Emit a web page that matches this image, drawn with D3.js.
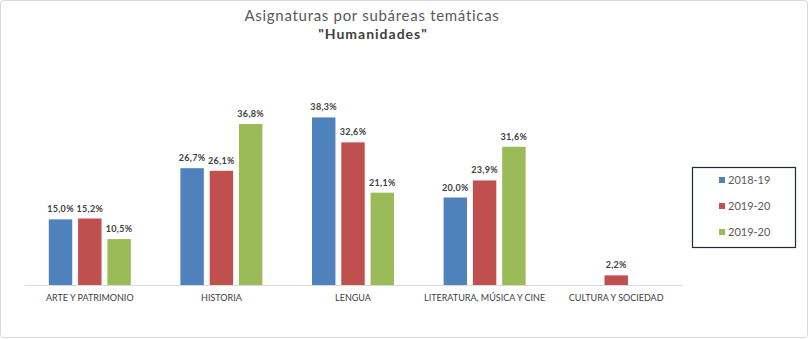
<!DOCTYPE html>
<html><head><meta charset="utf-8">
<script src="https://cdn.jsdelivr.net/npm/d3@7"></script>
<style>body{margin:0;background:#fff;}svg{display:block;}</style>
</head><body>
<svg id="c" width="809" height="339"></svg>
<script>
const categories = ["ARTE Y PATRIMONIO", "HISTORIA", "LENGUA", "LITERATURA, MÚSICA Y CINE", "CULTURA Y SOCIEDAD"];
const seriesNames = ["2018-19", "2019-20", "2019-20"];
const s2018 = [15.0, 26.7, 38.3, 20.0, null];
const s2019a = [15.2, 26.1, 32.6, 23.9, 2.2];
const s2019b = [10.5, 36.8, 21.1, 31.6, null];
const colors = ["#4f81bd", "#c0504d", "#9bbb59"];
const titleLine1 = "Asignaturas por subáreas temáticas";
const titleLine2 = "\"Humanidades\"";

const series = [s2018, s2019a, s2019b];
const font = "'Century Gothic','URW Gothic','URW Gothic L',Lato,'DejaVu Sans',sans-serif";
const svg = d3.select("#c");

svg.append("rect").attr("x",0.5).attr("y",0.5).attr("width",807).attr("height",337)
  .attr("rx",3).attr("fill","#fff").attr("stroke","#d9d9d9");

const x0 = d3.scaleBand().domain(categories).range([24, 682]).paddingInner(0).paddingOuter(0);
const x1 = d3.scaleBand().domain([0,1,2]).range([x0.bandwidth()/2 - 41, x0.bandwidth()/2 + 41]).paddingInner(0.2).paddingOuter(0);
const y = d3.scaleLinear().domain([0, 40]).range([285, 110]);

svg.append("g").attr("transform","translate(0,285)")
  .call(d3.axisBottom(x0).tickSize(0).tickPadding(10))
  .call(g => { g.select(".domain").attr("stroke","#d9d9d9"); 
    g.selectAll("text").attr("font-family",font).attr("font-size",9).attr("fill","#404040"); });

const groups = svg.append("g").selectAll("g").data(categories).join("g")
  .attr("transform", d => `translate(${x0(d)},0)`);

groups.each(function(cat, ci){
  const g = d3.select(this);
  series.forEach((s, si) => {
    const v = s[ci];
    if (v == null) return;
    g.append("rect").attr("x", x1(si)).attr("y", y(v)).attr("width", x1.bandwidth())
      .attr("height", y(0) - y(v)).attr("fill", colors[si]);
    g.append("text").attr("x", x1(si) + x1.bandwidth()/2).attr("y", y(v) - 7)
      .attr("text-anchor","middle").attr("font-family",font).attr("font-size",9)
      .attr("font-weight","bold").attr("letter-spacing",0.3).attr("fill","#404040")
      .text(v.toFixed(1).replace(".", ",") + "%");
  });
});

svg.append("text").attr("x",372).attr("y",21).attr("text-anchor","middle")
  .attr("font-family",font).attr("font-size",15).attr("letter-spacing",0.7).attr("fill","#595959").text(titleLine1);
svg.append("text").attr("x",373).attr("y",39).attr("text-anchor","middle")
  .attr("font-family",font).attr("font-size",14).attr("font-weight","bold").attr("letter-spacing",1)
  .attr("fill","#404040").text(titleLine2);

const lg = svg.append("g");
lg.append("rect").attr("x",692.5).attr("y",167.5).attr("width",103).attr("height",80)
  .attr("fill","#fff").attr("stroke","#1f2a3c").attr("stroke-width",1.2);
const ly = d3.scalePoint().domain([0,1,2]).range([180, 232]);
seriesNames.forEach((n, i) => {
  lg.append("rect").attr("x",719).attr("y",ly(i)-3).attr("width",6).attr("height",6).attr("fill",colors[i]);
  lg.append("text").attr("x",728).attr("y",ly(i)+4).attr("font-family",font).attr("font-size",11)
    .attr("fill","#595959").text(n);
});
</script>
</body></html>
